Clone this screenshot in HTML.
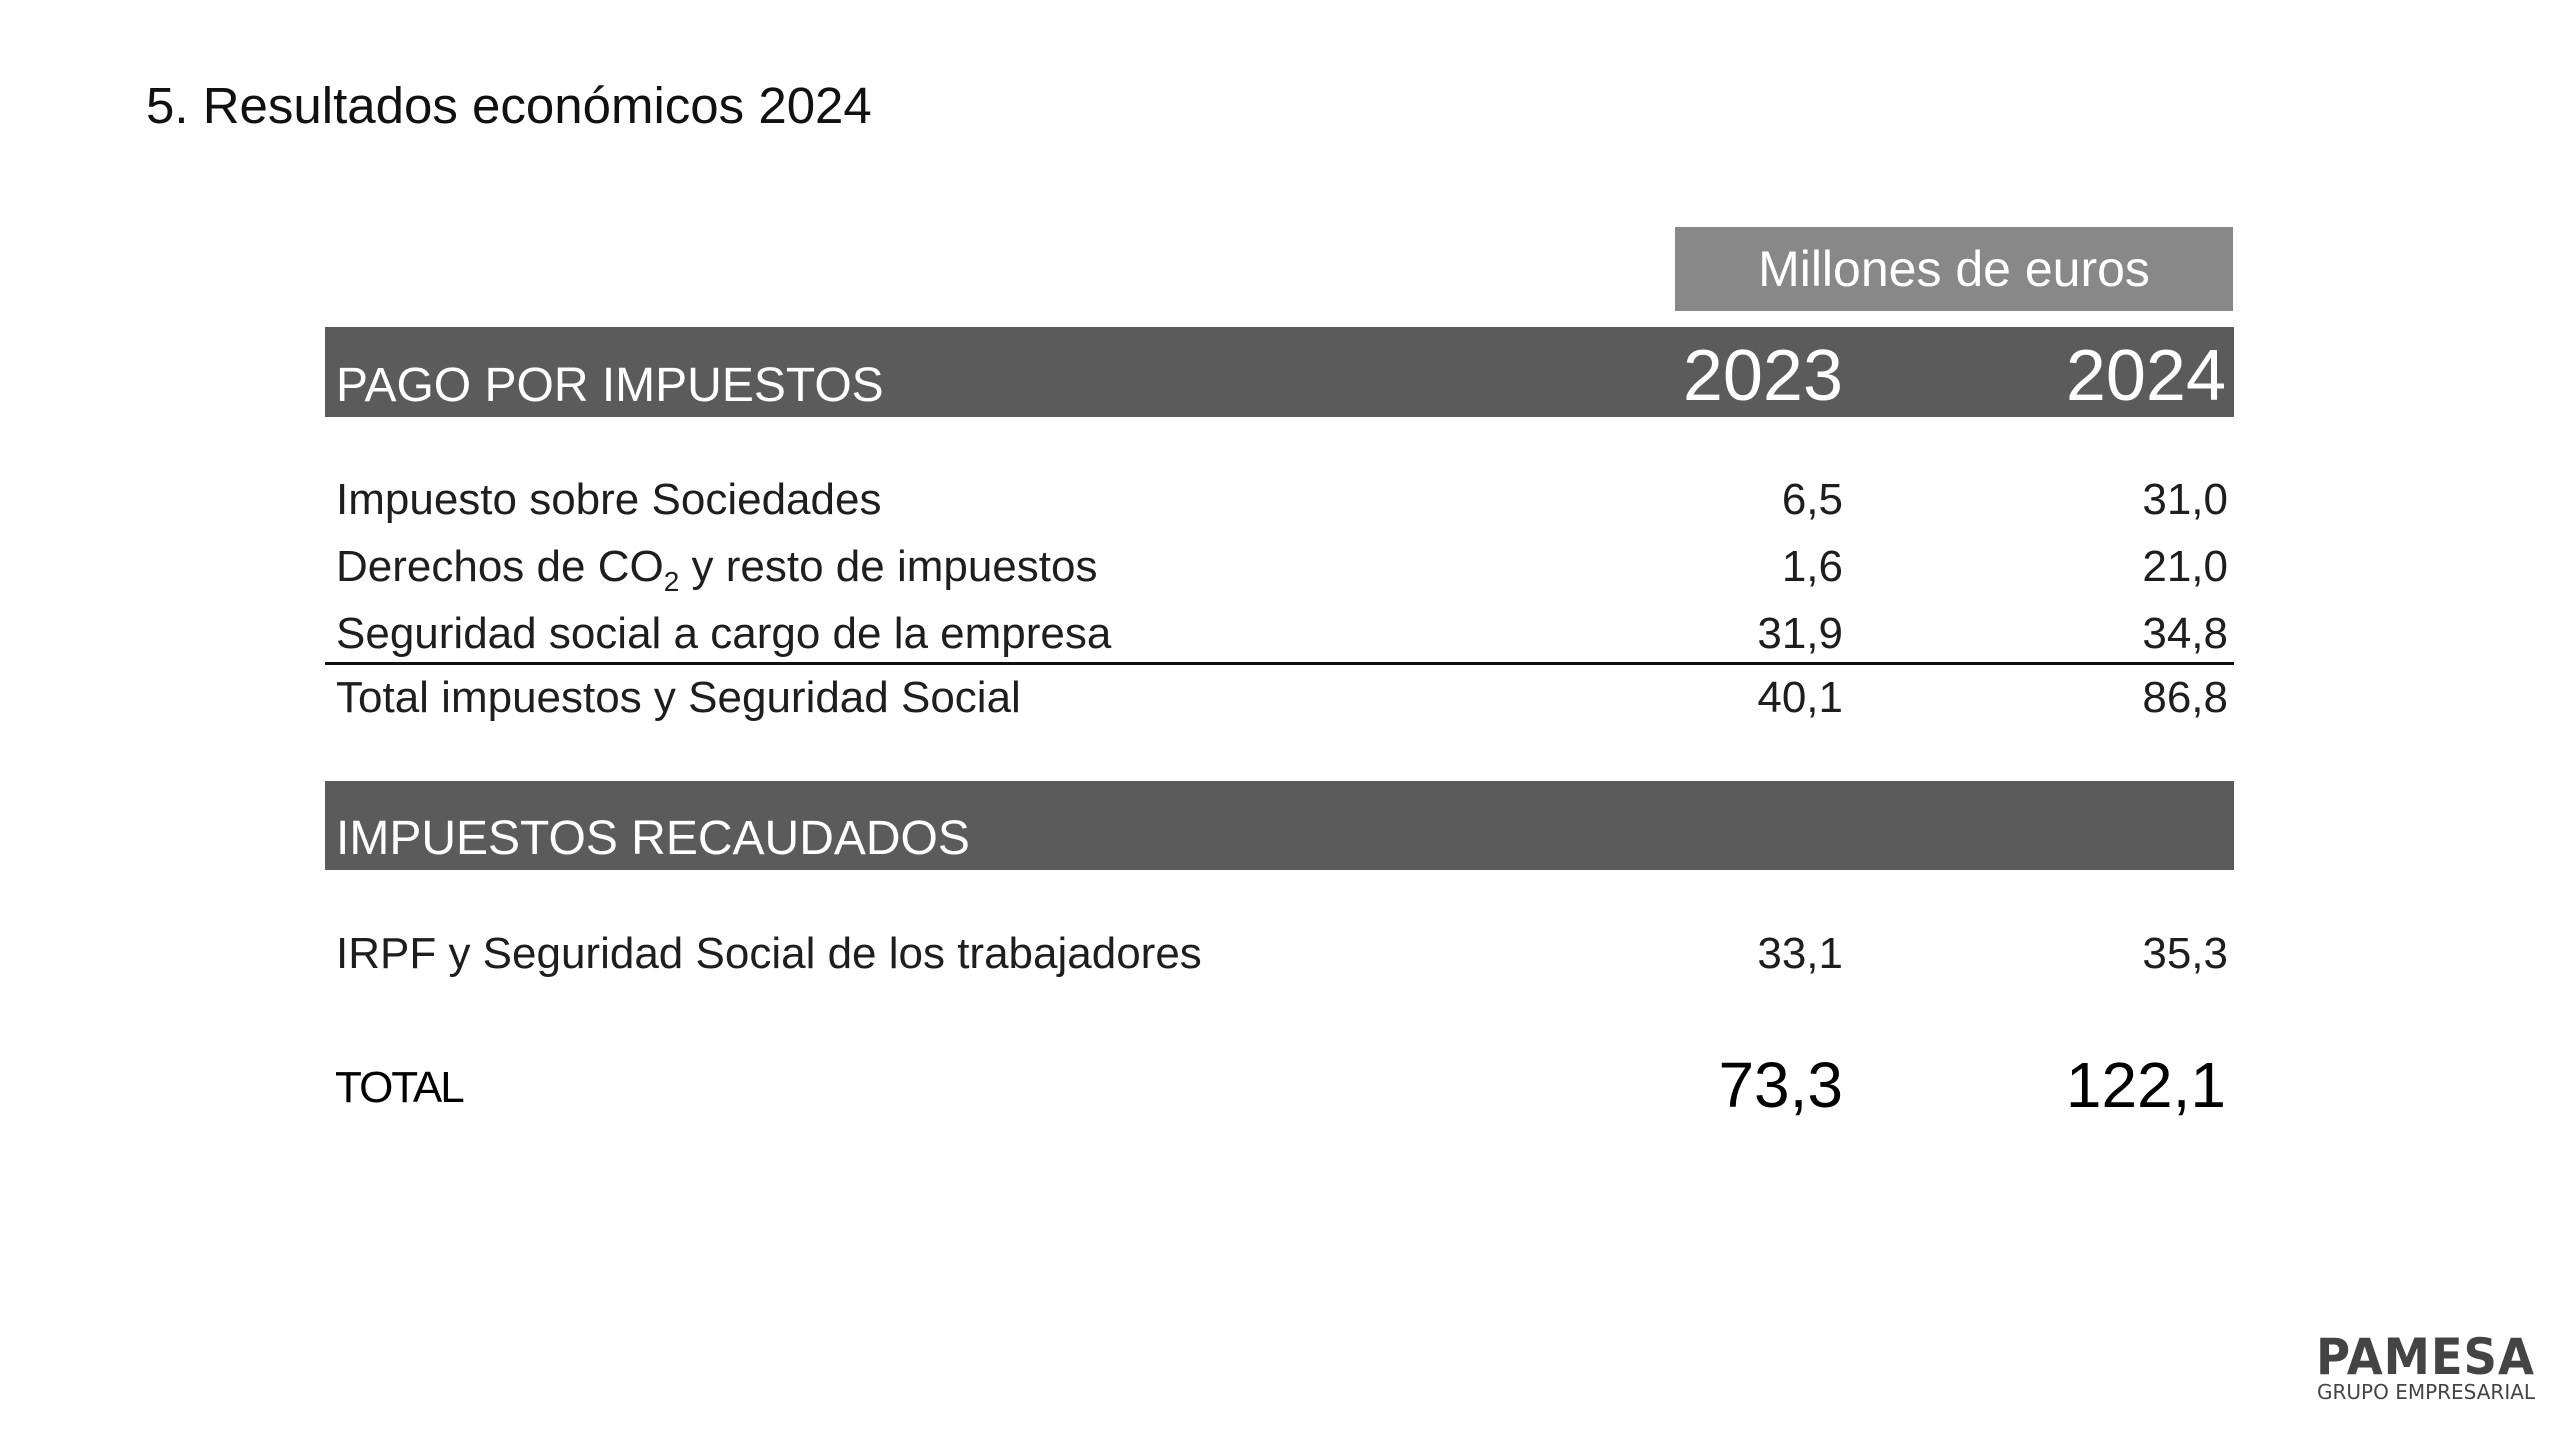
<!DOCTYPE html>
<html><head><meta charset="utf-8"><style>
body{margin:0;width:2560px;height:1440px;background:#fff;position:relative;overflow:hidden;font-family:"Liberation Sans",sans-serif;color:#1e1e1e}
.a{position:absolute;white-space:nowrap;line-height:1}
.r{text-align:right}
.bar{position:absolute;background:#5b5b5b}
</style></head><body>
<div class="a" style="left:146px;top:80px;font-size:51px;color:#111">5. Resultados económicos 2024</div>
<div class="a" style="left:1675px;top:227px;width:558px;height:84px;background:#888;color:#fff;font-size:50px;line-height:84px;text-align:center">Millones de euros</div>
<div class="bar" style="left:325px;top:327px;width:1909px;height:90px"></div>
<div class="a" style="left:336px;top:362px;font-size:48px;color:#fff">PAGO POR IMPUESTOS</div>
<div class="a r" style="left:1543px;width:300px;top:340px;font-size:72px;color:#fff">2023</div>
<div class="a r" style="left:1926px;width:300px;top:340px;font-size:72px;color:#fff">2024</div>
<div id="rows"></div>
<div class="a" style="left:325px;top:662px;width:1909px;height:3px;background:#111"></div>
<div class="bar" style="left:325px;top:781px;width:1909px;height:89px"></div>
<div class="a" style="left:336px;top:815px;font-size:48px;color:#fff">IMPUESTOS RECAUDADOS</div>
<div class="a" style="left:335px;top:1066px;font-size:44px;color:#000;letter-spacing:-2px">TOTAL</div>
<div class="a r" style="left:1443px;width:400px;top:1053px;font-size:64px;color:#000">73,3</div>
<div class="a r" style="left:1826px;width:400px;top:1053px;font-size:64px;color:#000">122,1</div>
<div class="a" style="left:2316px;top:1332px;font-size:50px;font-weight:bold;color:#444;letter-spacing:1px;font-family:'DejaVu Sans',sans-serif;transform:scaleX(0.93);transform-origin:left">PAMESA</div>
<div class="a" style="left:2317px;top:1382px;font-size:20px;color:#444;font-family:'DejaVu Sans',sans-serif">GRUPO EMPRESARIAL</div>
<script>
const labels=["Impuesto sobre Sociedades","Derechos de CO<sub style='font-size:28px'>2</sub> y resto de impuestos","Seguridad social a cargo de la empresa","Total impuestos y Seguridad Social","IRPF y Seguridad Social de los trabajadores"];
const v2023=["6,5","1,6","31,9","40,1","33,1"];
const v2024=["31,0","21,0","34,8","86,8","35,3"];
const tops=[478,545,612,676,932];
const c=document.getElementById('rows');
labels.forEach((l,i)=>{
 const d=document.createElement('div');d.className='a';d.style.cssText=`left:336px;top:${tops[i]}px;font-size:44px`;d.innerHTML=l;
 
 
 c.appendChild(d);
 const a=document.createElement('div');a.className='a r';a.style.cssText=`left:1543px;width:300px;top:${tops[i]}px;font-size:44px`;a.textContent=v2023[i];
 
 
 c.appendChild(a);
 const b=document.createElement('div');b.className='a r';b.style.cssText=`left:1928px;width:300px;top:${tops[i]}px;font-size:44px`;b.textContent=v2024[i];
 
 
 c.appendChild(b);
});
</script>
</body></html>
